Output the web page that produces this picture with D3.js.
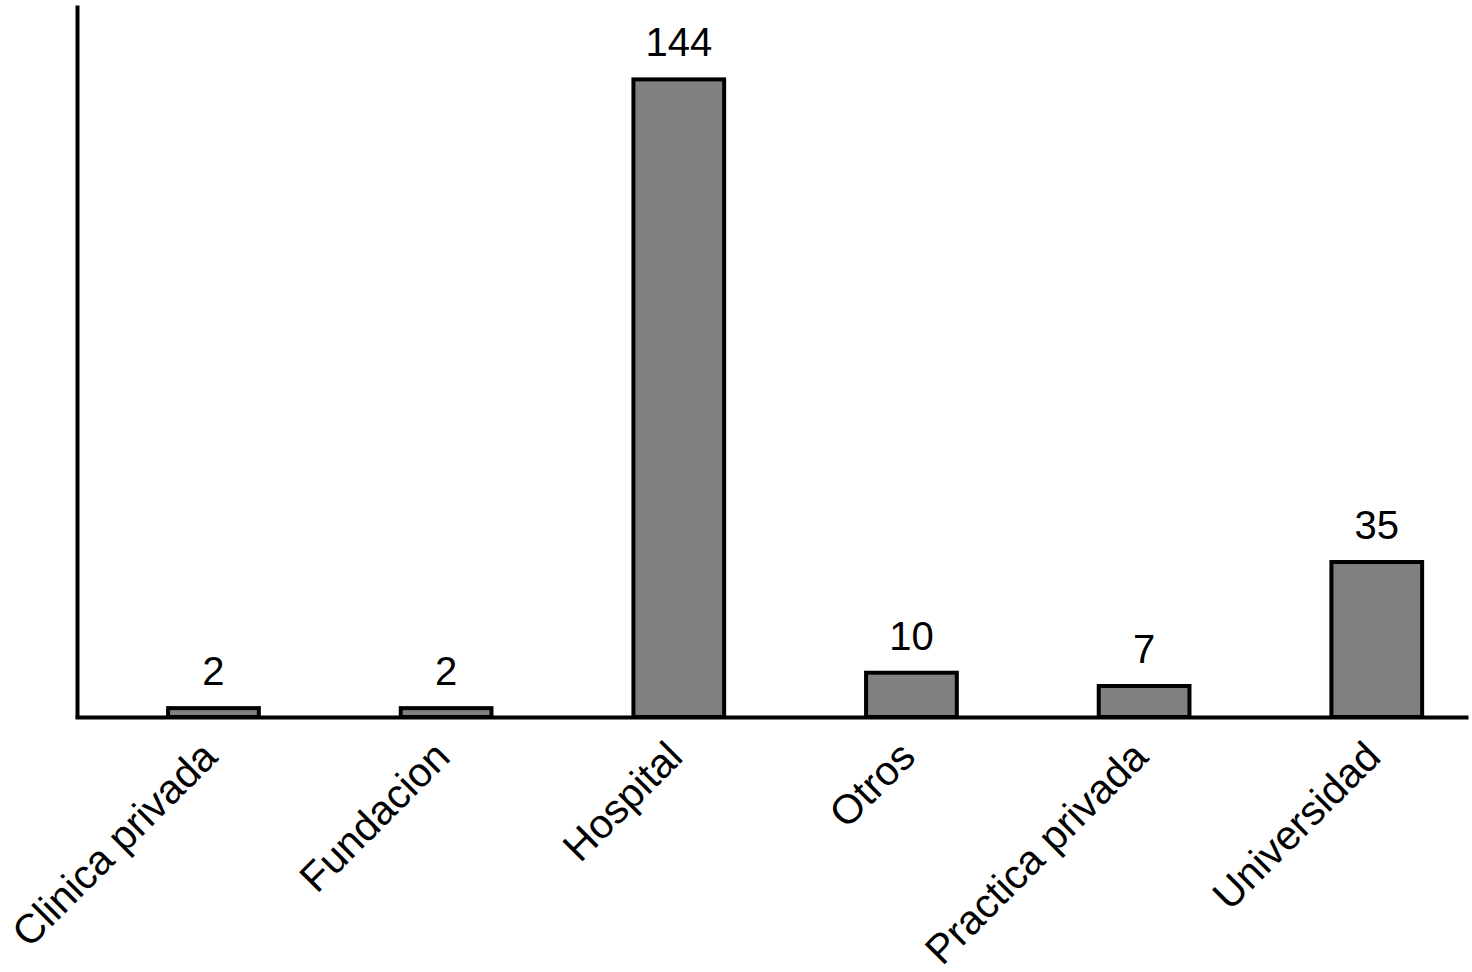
<!DOCTYPE html>
<html lang="en">
	<head>
		<meta charset="utf-8">
		<title>bar chart</title>
		<script src="https://d3js.org/d3.v7.min.js"></script>
		<style type="text/css">
			body { margin: 0; background: #fff; }
			text { font-family: "Liberation Sans", Arial, Helvetica, sans-serif; }
		</style>
	</head>
	<body>
		<script type="text/javascript">
			// data
			var categories = ["Clinica privada", "Fundacion", "Hospital", "Otros", "Practica privada", "Universidad"];
			var counts = [2, 2, 144, 10, 7, 35];

			var w = 1472;
			var h = 972;
			var padLeft = 77, padRight = 1466, baseY = 717, topY = 5;

			var dataSet = categories.map(function(c, i) { return { name: c, value: counts[i] }; });

			// scales
			var xScale = d3.scaleBand()
						.domain(categories)
						.range([padLeft, padRight])
						.paddingInner(0.61)
						.paddingOuter(0.29)
						.align(0.675);

			var yScale = d3.scaleLinear()
						.domain([0, 160.8])
						.range([baseY, topY]);

			var svg = d3.select("body")
						.append("svg")
						.attr("width", w)
						.attr("height", h);

			// bars
			svg.selectAll("rect")
				.data(dataSet)
				.enter()
				.append("rect")
				.attr("x", d => xScale(d.name))
				.attr("y", d => yScale(d.value))
				.attr("width", xScale.bandwidth())
				.attr("height", d => baseY - yScale(d.value))
				.attr("fill", "#808080")
				.attr("stroke", "#000")
				.attr("stroke-width", 4);

			// value labels
			svg.selectAll(".val")
				.data(dataSet)
				.enter()
				.append("text")
				.attr("class", "val")
				.attr("x", d => xScale(d.name) + xScale.bandwidth() / 2)
				.attr("y", d => yScale(d.value) - 23)
				.attr("text-anchor", "middle")
				.attr("font-size", 40)
				.text(d => d.value);

			// axes
			var xAxis = d3.axisBottom(xScale).tickSize(0).tickSizeOuter(0);
			var yAxis = d3.axisLeft(yScale).tickValues([]).tickSizeOuter(0);

			var gx = svg.append("g")
				.attr("transform", "translate(0," + baseY + ")")
				.call(xAxis);
			gx.select(".domain").attr("stroke-width", 4).attr("stroke-linecap", "square");
			gx.selectAll(".tick text")
				.attr("font-size", 41)
				.attr("fill", "#000")
				.attr("text-anchor", "end")
				.attr("y", 0)
				.attr("dy", 0)
				.attr("transform", "translate(6,42) rotate(-45)");

			var gy = svg.append("g")
				.attr("transform", "translate(" + padLeft + ",0)")
				.call(yAxis);
			gy.select(".domain").attr("stroke-width", 4);
		</script>
	</body>
</html>
